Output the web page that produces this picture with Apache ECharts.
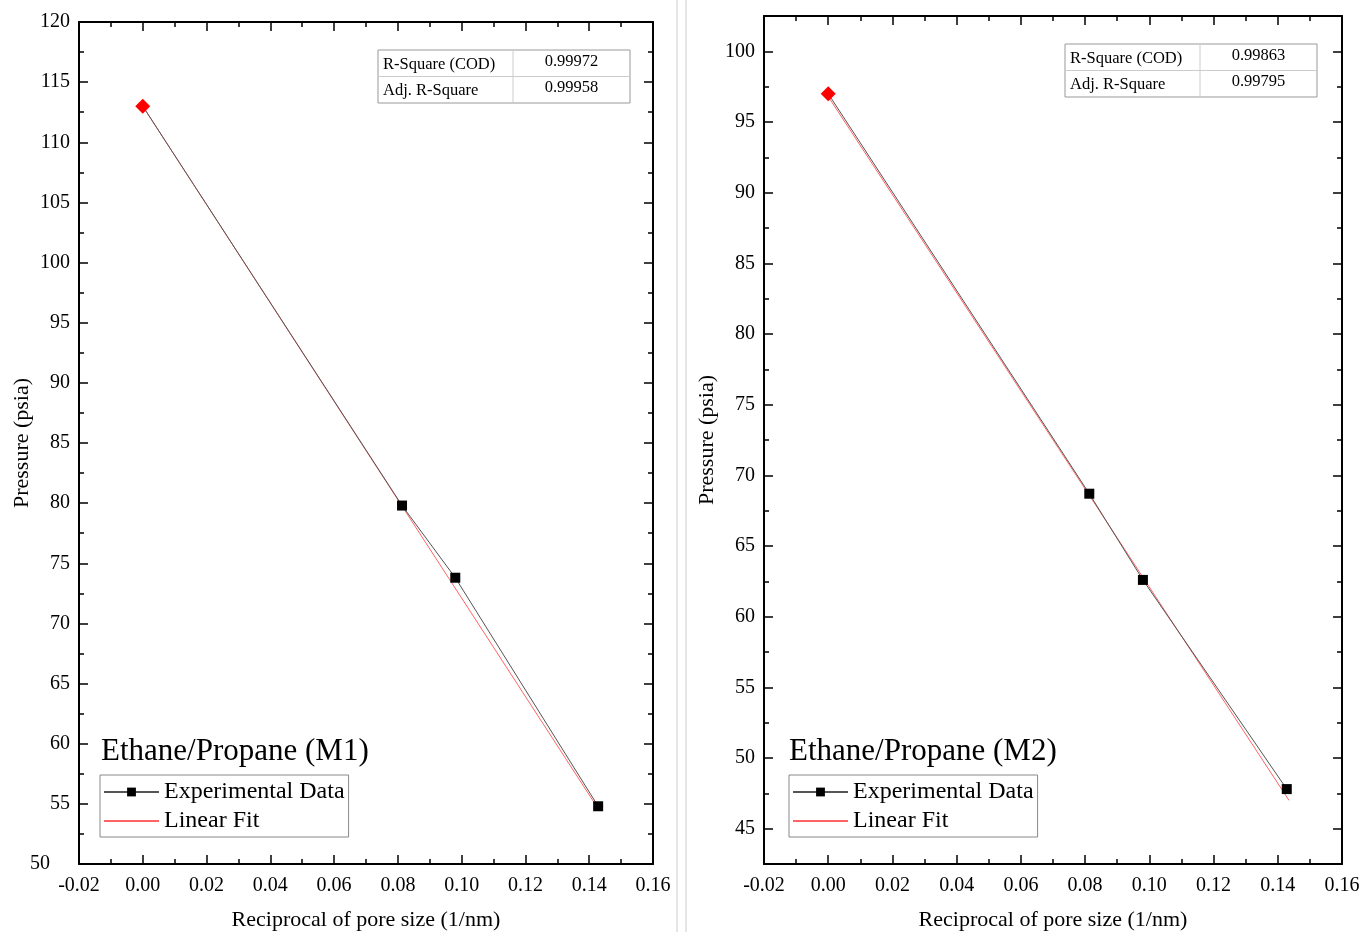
<!DOCTYPE html>
<html>
<head>
<meta charset="utf-8">
<script src="https://cdn.jsdelivr.net/npm/echarts@6/dist/echarts.min.js"></script>
<style>
  html, body { margin: 0; padding: 0; background: #fff; }
  #chart { width: 1363px; height: 932px; }
</style>
</head>
<body>
<div id="chart"></div>
<script>
// reciprocal pore size (1/nm); first point is the bulk (extrapolated) value
const poreInv = [0, 0.0813, 0.098, 0.1428];
const pressureM1 = [113.0, 79.8, 73.8, 54.8];
const pressureM2 = [97.0, 68.7, 62.6, 47.8];

// linear fit end points
const fitXM1 = [0, 0.1428];
const fitYM1 = [113.0, 54.6];
const fitXM2 = [0, 0.1435];
const fitYM2 = [96.8, 47.0];

const statLabels = ["R-Square (COD)", "Adj. R-Square"];
const statsM1 = ["0.99972", "0.99958"];
const statsM2 = ["0.99863", "0.99795"];

const titles = ["Ethane/Propane (M1)", "Ethane/Propane (M2)"];
const seriesNames = ["Experimental Data", "Linear Fit"];

// tick values for the M2 pressure axis (range does not start on a tick)
const yMajorM2 = [45, 50, 55, 60, 65, 70, 75, 80, 85, 90, 95, 100];
const yMinorM2 = [47.5, 52.5, 57.5, 62.5, 67.5, 72.5, 77.5, 82.5, 87.5, 92.5, 97.5];

const FONT = "Liberation Serif";
const chart = echarts.init(document.getElementById("chart"));

const axisLine = { show: true, onZero: false, lineStyle: { color: "#000", width: 2 } };
const tickStyle = { color: "#000", width: 1.5 };
const nameStyle = { fontFamily: FONT, fontSize: 22, color: "#000" };

function xAxis(gridIndex, position) {
    const main = position === "bottom";
    return {
        type: "value",
        gridIndex: gridIndex,
        position: position,
        min: -0.02,
        max: 0.16,
        interval: 0.02,
        name: main ? "Reciprocal of pore size (1/nm)" : "",
        nameLocation: "middle",
        nameGap: 45,
        nameMoveOverlap: false,
        nameTextStyle: nameStyle,
        axisLine: axisLine,
        axisTick: { show: true, inside: true, length: 9, lineStyle: tickStyle },
        minorTick: { show: true, splitNumber: 2, length: 5, lineStyle: tickStyle },
        axisLabel: {
            show: main,
            margin: 12,
            fontFamily: FONT,
            fontSize: 20,
            color: "#000",
            formatter: (v) => v.toFixed(2),
        },
        splitLine: { show: false },
    };
}

function yAxisM1(position) {
    const main = position === "left";
    return {
        type: "value",
        gridIndex: 0,
        position: position,
        min: 50,
        max: 120,
        interval: 5,
        name: main ? "Pressure (psia)" : "",
        nameLocation: "middle",
        nameGap: 46,
        nameMoveOverlap: false,
        nameTextStyle: nameStyle,
        axisLine: axisLine,
        axisTick: { show: true, inside: true, length: 9, lineStyle: tickStyle },
        minorTick: { show: true, splitNumber: 2, length: 5, lineStyle: tickStyle },
        axisLabel: {
            show: main,
            margin: 9,
            fontFamily: FONT,
            fontSize: 20,
            color: "#000",
            formatter: (v) => (v === 50 ? "{s|50}" : String(v)),
            rich: { s: { fontFamily: FONT, fontSize: 20, color: "#000", padding: [0, 20, 0, 0] } },
        },
        splitLine: { show: false },
    };
}

function yAxisM2(position, minor) {
    const main = position === "left" && !minor;
    return {
        type: "value",
        gridIndex: 1,
        position: position,
        min: 42.5,
        max: 102.5,
        name: main ? "Pressure (psia)" : "",
        nameLocation: "middle",
        nameGap: 46,
        nameMoveOverlap: false,
        nameTextStyle: nameStyle,
        axisLine: minor ? { show: false, onZero: false } : axisLine,
        axisTick: {
            show: true,
            inside: true,
            length: minor ? 5 : 9,
            customValues: minor ? yMinorM2 : yMajorM2,
            lineStyle: tickStyle,
        },
        axisLabel: {
            show: main,
            customValues: yMajorM2,
            margin: 9,
            fontFamily: FONT,
            fontSize: 20,
            color: "#000",
        },
        splitLine: { show: false },
    };
}

function pairs(xs, ys) {
    return xs.map((x, i) => [x, ys[i]]);
}

function expData(ys) {
    return poreInv.map((x, i) =>
        i === 0
            ? { value: [x, ys[i]], symbol: "diamond", symbolSize: 15, itemStyle: { color: "#ff0000" } }
            : [x, ys[i]]
    );
}

function expSeries(xi, yi, ys) {
    return {
        name: seriesNames[0],
        type: "line",
        xAxisIndex: xi,
        yAxisIndex: yi,
        data: expData(ys),
        symbol: "rect",
        symbolSize: 10,
        itemStyle: { color: "#000" },
        lineStyle: { color: "#555", width: 1 },
        z: 3,
        animation: false,
    };
}

function fitSeries(xi, yi, xs, ys) {
    return {
        name: seriesNames[1],
        type: "line",
        xAxisIndex: xi,
        yAxisIndex: yi,
        data: pairs(xs, ys),
        showSymbol: false,
        symbol: "none",
        itemStyle: { color: "#ff6464" },
        lineStyle: { color: "#ff6464", width: 1 },
        z: 2,
        animation: false,
    };
}

function statTable(x, y, values) {
    const w1 = 135, w2 = 117, rh = 26.5;
    const children = [
        { type: "rect", shape: { x: 0, y: 0, width: w1 + w2, height: rh * 2 },
          style: { fill: "#fff", stroke: "#999", lineWidth: 1 } },
        { type: "line", shape: { x1: 0, y1: rh, x2: w1 + w2, y2: rh },
          style: { stroke: "#ccc", lineWidth: 1 } },
        { type: "line", shape: { x1: w1, y1: 0, x2: w1, y2: rh * 2 },
          style: { stroke: "#ccc", lineWidth: 1 } },
    ];
    statLabels.forEach((lab, i) => {
        children.push({
            type: "text", x: 5, y: rh * i + rh / 2 + 1,
            style: { text: lab, fontFamily: FONT, fontSize: 16.5, fill: "#000", verticalAlign: "middle" },
        });
        children.push({
            type: "text", x: w1 + w2 / 2, y: rh * i + rh / 2 - 2,
            style: { text: values[i], fontFamily: FONT, fontSize: 16.5, fill: "#000",
                     align: "center", verticalAlign: "middle" },
        });
    });
    return { type: "group", x: x, y: y, children: children, z: 10 };
}

function legend(left) {
    return {
        left: left,
        top: 775,
        orient: "vertical",
        data: [
            { name: seriesNames[0] },
            { name: seriesNames[1], itemStyle: { opacity: 0 } },
        ],
        itemWidth: 55,
        itemHeight: 11,
        itemGap: 5,
        padding: [5, 4, 4, 3],
        borderColor: "#888",
        borderWidth: 1,
        selectedMode: false,
        textStyle: { fontFamily: FONT, fontSize: 24, color: "#000" },
    };
}

chart.setOption({
    backgroundColor: "#fff",
    animation: false,
    grid: [
        { left: 79, top: 22, right: 710, bottom: 68, outerBoundsMode: "none" },
        { left: 764, top: 16, right: 21, bottom: 68, outerBoundsMode: "none" },
    ],
    title: [
        { text: titles[0], left: 101, top: 736, padding: 0,
          textStyle: { fontFamily: FONT, fontSize: 31, fontWeight: "normal", color: "#000" } },
        { text: titles[1], left: 789, top: 736, padding: 0,
          textStyle: { fontFamily: FONT, fontSize: 31, fontWeight: "normal", color: "#000" } },
    ],
    legend: [legend(100), legend(789)],
    xAxis: [xAxis(0, "bottom"), xAxis(0, "top"), xAxis(1, "bottom"), xAxis(1, "top")],
    yAxis: [
        yAxisM1("left"),
        yAxisM1("right"),
        yAxisM2("left", false),
        yAxisM2("left", true),
        yAxisM2("right", false),
        yAxisM2("right", true),
    ],
    series: [
        fitSeries(0, 0, fitXM1, fitYM1),
        expSeries(0, 0, pressureM1),
        fitSeries(2, 2, fitXM2, fitYM2),
        expSeries(2, 2, pressureM2),
    ],
    graphic: [
        statTable(378, 50, statsM1),
        statTable(1065, 44, statsM2),
        { type: "line", shape: { x1: 677, y1: 0, x2: 677, y2: 932 }, style: { stroke: "#ccc", lineWidth: 1 } },
        { type: "line", shape: { x1: 686, y1: 0, x2: 686, y2: 932 }, style: { stroke: "#ccc", lineWidth: 1 } },
    ],
});
</script>
</body>
</html>
